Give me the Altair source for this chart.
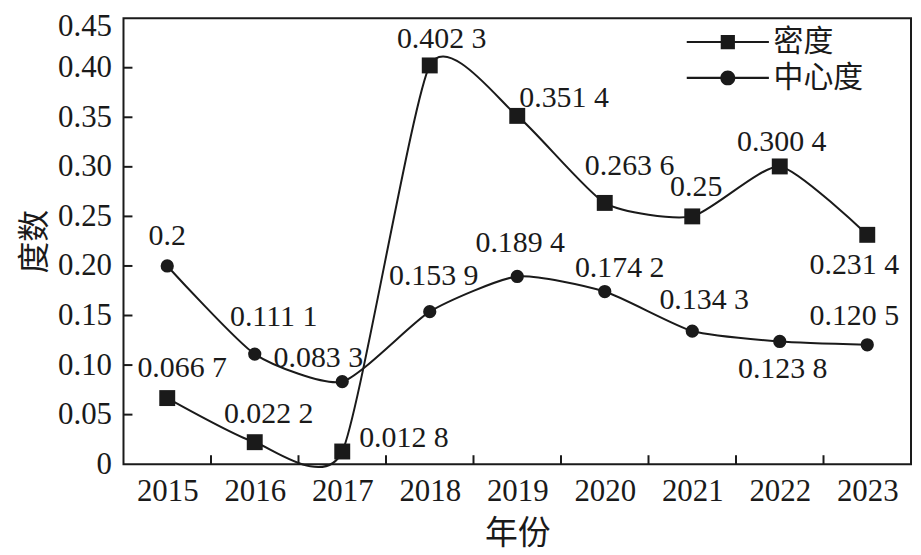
import altair as alt
import pandas as pd

years = [2015, 2016, 2017, 2018, 2019, 2020, 2021, 2022, 2023]
series_names = ["密度", "中心度"]
density = [0.0667, 0.0222, 0.0128, 0.4023, 0.3514, 0.2636, 0.25, 0.3004, 0.2314]
centrality = [0.2, 0.1111, 0.0833, 0.1539, 0.1894, 0.1742, 0.1343, 0.1238, 0.1205]
density_labels = ["0.066 7", "0.022 2", "0.012 8", "0.402 3", "0.351 4",
                  "0.263 6", "0.25", "0.300 4", "0.231 4"]
centrality_labels = ["0.2", "0.111 1", "0.083 3", "0.153 9", "0.189 4",
                     "0.174 2", "0.134 3", "0.123 8", "0.120 5"]
y_ticks = [0, 0.05, 0.10, 0.15, 0.20, 0.25, 0.30, 0.35, 0.40, 0.45]

# label placement offsets (pixels, relative to the marker)
density_dx = [15, 14, 62, 12, 47, 25, 4, 2, -13]
density_dy = [-30, -28, -14, -27, -18, -37, -29, -25, 30]
centrality_dx = [0, 19, -24, 4, 3, 15, 12, 3, -13]
centrality_dy = [-30, -37, -24, -36, -34, -24, -31, 28, -29]

rows = []
for name, vals, labs, dxs, dys in [
    (series_names[0], density, density_labels, density_dx, density_dy),
    (series_names[1], centrality, centrality_labels, centrality_dx, centrality_dy),
]:
    for yr, v, lab, dx, dy in zip(years, vals, labs, dxs, dys):
        rows.append({"year": yr, "value": v, "series": name, "label": lab,
                     "dx": dx, "dy": dy})
df = pd.DataFrame(rows)
df["idx"] = range(len(df))

W, H = 791, 448
INK = "#1a1a1a"
NUM_FONT = "Liberation Serif, Times New Roman, DejaVu Serif, serif"
CJK_FONT = "Noto Sans CJK SC"
LEGEND_FONT = "Liberation Serif, Noto Sans CJK SC"

xscale = alt.Scale(domain=[years[0] - 0.5, years[-1] + 0.5], nice=False, zero=False)
yscale = alt.Scale(domain=[y_ticks[0], y_ticks[-1]], nice=False, zero=False)

x_axis = alt.Axis(values=years, format="d", ticks=False, domain=False,
                  grid=False, labelFont=NUM_FONT, labelFontSize=31,
                  labelColor=INK, labelPadding=12, title="年份",
                  titleFont=CJK_FONT, titleFontSize=33,
                  titleFontWeight="normal", titleColor=INK, titlePadding=12)
y_axis = alt.Axis(values=y_ticks,
                  labelExpr="datum.value == 0 ? '0' : format(datum.value, '.2f')",
                  labelOffset={"condition": {"test": f"datum.value >= {y_ticks[-1]}",
                                             "value": 8}, "value": 0},
                  ticks=False, domain=False, grid=False,
                  labelFont=NUM_FONT, labelFontSize=31, labelColor=INK,
                  labelPadding=12, title="度数", titleFont=CJK_FONT,
                  titleFontSize=32, titleFontWeight="normal",
                  titleColor=INK, titlePadding=6)


def X(field):
    return alt.X(field, scale=xscale, axis=x_axis)


def Y(field):
    return alt.Y(field, scale=yscale, axis=y_axis)


lines = alt.Chart(df).mark_line(interpolate="cardinal", tension=0.4, color=INK,
                                strokeWidth=2, clip=False).encode(
    x=X("year:Q"), y=Y("value:Q"), detail="series:N")

points = alt.Chart(df).mark_point(filled=True, opacity=1, color=INK).encode(
    x=X("year:Q"), y=Y("value:Q"),
    shape=alt.Shape("series:N",
                    scale=alt.Scale(domain=series_names, range=["square", "circle"]),
                    legend=None),
    size=alt.Size("series:N",
                  scale=alt.Scale(domain=series_names, range=[256, 177]),
                  legend=None),
)

# legend symbols: line through marker (custom filled paths), from an invisible layer
sq_path = "M-5.5,-0.14H5.5V0.14H-5.5ZM-0.95,-0.95H0.95V0.95H-0.95Z"
ci_path = "M-5.5,-0.14H5.5V0.14H-5.5ZM1,0A1,1,0,1,1,-1,0A1,1,0,1,1,1,0Z"
legend_layer = alt.Chart(df).mark_point(
    filled=True, opacity=0, color=INK
).encode(
    x=X("year:Q"), y=Y("value:Q"),
    shape=alt.Shape("series:N",
                    scale=alt.Scale(domain=series_names, range=[sq_path, ci_path]),
                    legend=alt.Legend(
                        orient="none", legendX=592, legendY=9, title=None,
                        padding=0, symbolSize=225, labelFont=LEGEND_FONT,
                        labelFontSize=30, labelColor=INK, labelOffset=31,
                        rowPadding=6, symbolOpacity=1, symbolStrokeWidth=0,
                        symbolFillColor=INK)),
)

label_layers = []
for i, r in df.iterrows():
    label_layers.append(
        alt.Chart(df).transform_filter(f"datum.idx == {int(r['idx'])}")
        .mark_text(dx=int(r["dx"]), dy=int(r["dy"]), font=NUM_FONT, fontSize=30,
                   color=INK, align="center", baseline="middle")
        .encode(x=X("year:Q"), y=Y("value:Q"), text="label:N")
    )

xb = pd.DataFrame({"b": [yr + 0.5 for yr in years[:-1]]})
yb = pd.DataFrame({"t": y_ticks[1:-1]})
xticks = alt.Chart(xb).mark_rule(color=INK, strokeWidth=2).encode(
    x=X("b:Q"), y=alt.value(H), y2=alt.value(H - 9))
yticks = alt.Chart(yb).mark_rule(color=INK, strokeWidth=2).encode(
    y=Y("t:Q"), x=alt.value(0), x2=alt.value(9))

chart = alt.layer(lines, points, legend_layer, *label_layers, xticks, yticks).resolve_scale(
    shape="independent", size="independent"
).properties(
    width=W, height=H,
    autosize=alt.AutoSizeParams(type="none"),
    padding={"left": 116, "top": 9, "right": 2, "bottom": 88},
    background="white",
).configure_view(stroke=INK, strokeWidth=2)

chart.save("out.html", embed_options={"renderer": "svg", "actions": False})
